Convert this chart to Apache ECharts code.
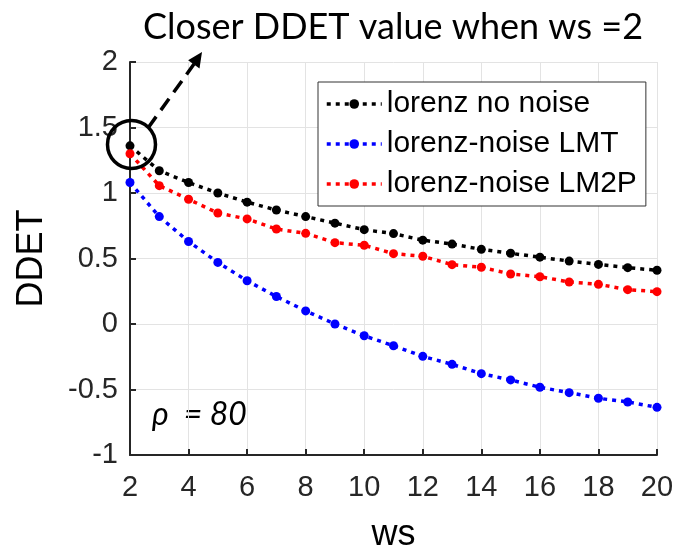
<!DOCTYPE html>
<html>
<head>
<meta charset="utf-8">
<script src="https://cdn.jsdelivr.net/npm/echarts@6/dist/echarts.min.js"></script>
<style>html,body{margin:0;padding:0;background:#fff;}#c{width:678px;height:558px;}</style>
</head>
<body>
<div id="c"></div>
<script>
const ws = [2,3,4,5,6,7,8,9,10,11,12,13,14,15,16,17,18,19,20];
const noNoise = [1.36,1.17,1.08,1.00,0.93,0.87,0.82,0.77,0.72,0.69,0.64,0.61,0.57,0.54,0.51,0.48,0.455,0.43,0.41];
const noiseLMT = [1.08,0.82,0.63,0.47,0.33,0.21,0.10,0.00,-0.09,-0.166,-0.247,-0.308,-0.379,-0.427,-0.483,-0.524,-0.567,-0.595,-0.636];
const noiseLM2P = [1.30,1.056,0.952,0.847,0.802,0.725,0.692,0.621,0.601,0.537,0.517,0.453,0.433,0.382,0.361,0.321,0.303,0.262,0.247];
const seriesNames = ['lorenz no noise','lorenz-noise LMT','lorenz-noise LM2P'];
const xTicks = {min:2, max:20, interval:2};
const yTicks = {min:-1, max:2, interval:0.5};
const titleText = 'Closer DDET value when ws =2';
const rhoText = 'ρ  = 80';

const chart = echarts.init(document.getElementById('c'), null, {renderer:'canvas'});
const pairs = a => ws.map((x,i)=>[x,a[i]]);
const lineStyleFor = c => ({color:c, width:3.5, type:[4,5]});
const mk = (name, data, color) => ({
  name, type:'line', data:pairs(data), symbol:'circle', symbolSize:9,
  itemStyle:{color}, lineStyle:lineStyleFor(color), z:3
});
const font = 'Liberation Sans';
chart.setOption({
  animation:false,
  backgroundColor:'#fff',
  grid:{left:130, right:21, top:62, bottom:103},
  xAxis:{type:'value', min:xTicks.min, max:xTicks.max, interval:xTicks.interval,
    name:'ws', nameLocation:'middle', nameGap:62,
    nameTextStyle:{fontSize:36, color:'#000', fontFamily:font},
    axisLine:{onZero:false, lineStyle:{color:'#262626', width:2}},
    axisTick:{inside:true, length:6, lineStyle:{color:'#262626', width:2}},
    axisLabel:{fontSize:29, color:'#262626', fontFamily:font, margin:18},
    splitLine:{show:true, lineStyle:{color:'#e3e3e3', width:1}}},
  yAxis:{type:'value', min:yTicks.min, max:yTicks.max, interval:yTicks.interval,
    name:'DDET', nameLocation:'middle', nameGap:80, nameRotate:90,
    nameTextStyle:{fontSize:36, color:'#000', fontFamily:font},
    axisLine:{show:true, onZero:false, lineStyle:{color:'#262626', width:2}},
    axisTick:{show:true, inside:true, length:6, lineStyle:{color:'#262626', width:2}},
    axisLabel:{fontSize:29, color:'#262626', fontFamily:font, margin:12},
    splitLine:{show:true, lineStyle:{color:'#e3e3e3', width:1}}},
  legend:{orient:'vertical', left:318, top:82, itemWidth:55, itemHeight:12, itemGap:10,
    padding:[7,9,7,7], borderColor:'#333', borderWidth:1, backgroundColor:'#fff',
    lineStyle:{width:3.5, type:[4,5]},
    textStyle:{fontSize:30, color:'#000', fontFamily:font, lineHeight:30},
    data:seriesNames},
  series:[
    mk(seriesNames[0], noNoise, '#000000'),
    mk(seriesNames[1], noiseLMT, '#0000ff'),
    mk(seriesNames[2], noiseLM2P, '#ff0000')
  ],
  graphic:[
    {type:'text', x:393, y:27, style:{text:titleText, font:'36px Lato', fill:'#000', textAlign:'center', textVerticalAlign:'middle'}},
    {type:'text', x:152, y:415, style:{text:rhoText, font:'italic 32px Lato', fill:'#000', textAlign:'left', textVerticalAlign:'middle'}},
    {type:'circle', shape:{cx:131.5, cy:144.5, r:24}, style:{fill:'none', stroke:'#000', lineWidth:3.5}, z:10},
    {type:'line', shape:{x1:148, y1:128, x2:194, y2:64}, style:{stroke:'#000', lineWidth:3.5, lineDash:[14,8]}, z:10},
    {type:'polygon', shape:{points:[[202,52],[199.5,68.5],[188.1,60.3]]}, style:{fill:'#000'}, z:10}
  ]
});
</script>
</body>
</html>
